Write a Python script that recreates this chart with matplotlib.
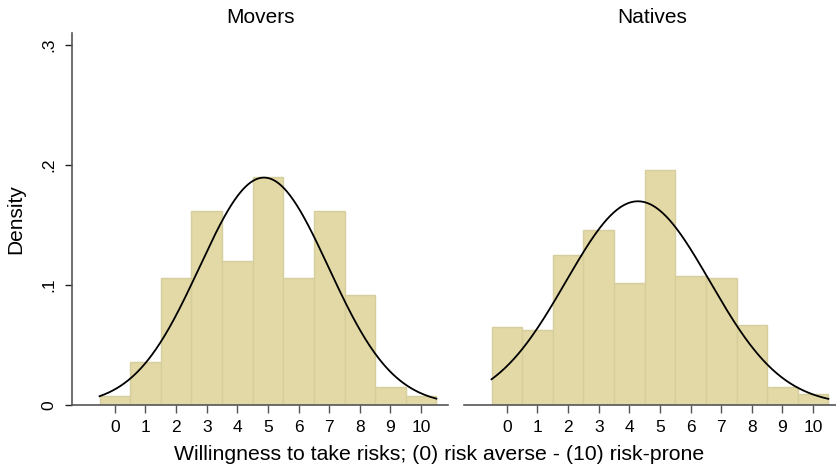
import numpy as np
import matplotlib.pyplot as plt

plt.rcParams["font.family"] = ["Liberation Sans", "DejaVu Sans"]

# Risk scale categories and density per category
scores = list(range(11))
movers_density = [0.0077, 0.0359, 0.1055, 0.1616, 0.1196, 0.1898,
                  0.1055, 0.1616, 0.0917, 0.0149, 0.0077]
natives_density = [0.0649, 0.0627, 0.1251, 0.1459, 0.1017, 0.1956,
                   0.1075, 0.1055, 0.0663, 0.0152, 0.0091]

# Fitted normal curves: mean and standard deviation per group
movers_mean, movers_sd = 4.87, 2.105
natives_mean, natives_sd = 4.28, 2.35

panel_titles = ["Movers", "Natives"]
ytick_vals = [0, 0.1, 0.2, 0.3]
ytick_labels = ["0", ".1", ".2", ".3"]

bar_color = "#E3D9A6"
bar_edge = "#D6CE9C"
axis_color = "#555555"

W, H = 836, 470
fig = plt.figure(figsize=(W / 100, H / 100), dpi=100)

def px_axes(x0, y0, x1, y1):
    return fig.add_axes([x0 / W, 1 - y1 / H, (x1 - x0) / W, (y1 - y0) / H])

ax_left = px_axes(72, 33, 448, 405)
ax_right = px_axes(464, 33, 840, 405)

data = [(movers_density, movers_mean, movers_sd),
        (natives_density, natives_mean, natives_sd)]

for i, (ax, (dens, mu, sd)) in enumerate(zip([ax_left, ax_right], data)):
    ax.bar(scores, dens, width=1.0, color=bar_color, edgecolor=bar_edge,
           linewidth=1.0, zorder=2)
    xs = np.linspace(-0.5, 10.5, 300)
    ys = np.exp(-0.5 * ((xs - mu) / sd) ** 2) / (sd * np.sqrt(2 * np.pi))
    ax.plot(xs, ys, color="black", linewidth=1.3, zorder=3)

    ax.set_xlim(-1.4, 10.88)
    ax.set_ylim(0, 0.31)
    ax.set_xticks(scores)
    ax.set_xticklabels([str(s) for s in scores], fontsize=12.5)
    ax.tick_params(axis="x", length=6, width=1, color=axis_color, pad=5)
    ax.set_title(panel_titles[i], fontsize=15, pad=7)

    for side in ["top", "right"]:
        ax.spines[side].set_visible(False)
    ax.spines["bottom"].set_color(axis_color)
    ax.spines["bottom"].set_linewidth(1.2)

    if i == 0:
        ax.spines["left"].set_color(axis_color)
        ax.spines["left"].set_linewidth(1.2)
        ax.set_yticks(ytick_vals)
        ax.set_yticklabels(ytick_labels, fontsize=12.5, rotation=90, va="center")
        ax.tick_params(axis="y", length=5, width=1, color="#222222", pad=6)
        ax.set_ylabel("Density", fontsize=15, labelpad=12)
    else:
        ax.spines["left"].set_visible(False)
        ax.set_yticks([])

fig.text(439 / W, 1 - 455 / H, "Willingness to take risks; (0) risk averse - (10) risk-prone",
         ha="center", va="center", fontsize=15.3)

fig.savefig("out.png", dpi=100)
